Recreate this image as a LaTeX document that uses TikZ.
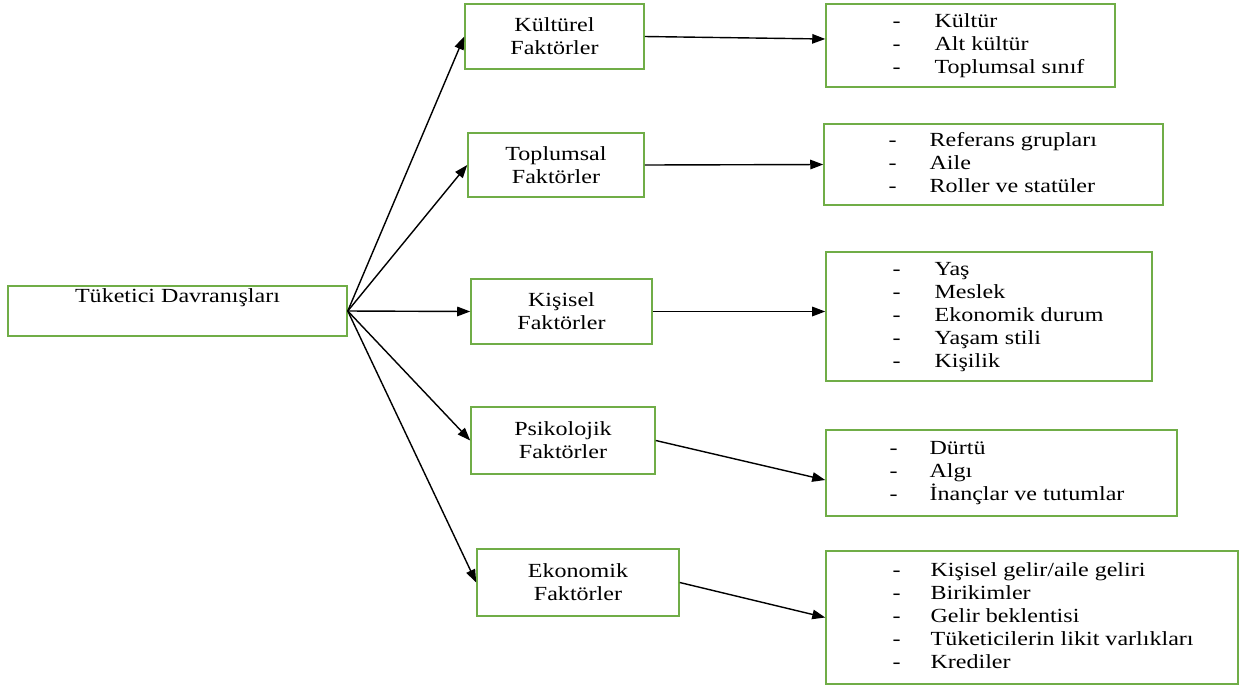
\documentclass[tikz,border=0pt]{standalone}
\usepackage{fontspec}
\setmainfont{Liberation Serif}[FakeStretch=1.2]
\usepackage{tikz}
\usetikzlibrary{arrows.meta,positioning}
\definecolor{boxgreen}{HTML}{70AD47}

\begin{document}
\begin{tikzpicture}[x=0.02cm,y=-0.02cm,font=\fontsize{11.4}{13.1}\selectfont,
  box/.style={draw=boxgreen,line width=0.9pt,align=center,inner sep=0pt},
  items/.style={align=left,inner sep=0pt},
  arr/.style={-{Triangle[length=2.6mm,width=1.9mm]},line width=0.8pt,color=black}]
  \useasboundingbox (0,0) rectangle (1242,691);
  % root and factor boxes
  \node[box,minimum width=6.78cm,minimum height=1cm] (root) at (177.5,311) {Tüketici Davranışları\\\strut};
  \node[box,minimum width=3.58cm,minimum height=1.3cm] (kul) at (554.5,36.5) {Kültürel\\Faktörler};
  \node[box,minimum width=3.52cm,minimum height=1.28cm] (top) at (556,165) {Toplumsal\\Faktörler};
  \node[box,minimum width=3.62cm,minimum height=1.3cm] (kis) at (561.5,311.5) {Kişisel\\Faktörler};
  \node[box,minimum width=3.68cm,minimum height=1.34cm] (psi) at (563,440.5) {Psikolojik\\Faktörler};
  \node[box,minimum width=4.04cm,minimum height=1.34cm] (eko) at (578,582.5) {Ekonomik\\Faktörler};
  % list boxes
  \node[box,minimum width=5.78cm,minimum height=1.66cm] (l1) at (970.5,45.5) {};
  \node[box,minimum width=6.78cm,minimum height=1.62cm] (l2) at (993.5,164.5) {};
  \node[box,minimum width=6.52cm,minimum height=2.58cm] (l3) at (989,316.5) {};
  \node[box,minimum width=7.02cm,minimum height=1.72cm] (l4) at (1001.5,473) {};
  \node[box,minimum width=8.24cm,minimum height=2.66cm] (l5) at (1032,617.5) {};
  \node[items,right=1.34cm of l1.west] (l1t) {\begin{tabular}{@{}p{0.84cm}@{}l@{}}
    - & Kültür\\ - & Alt kültür\\ - & Toplumsal sınıf\end{tabular}};
  \node[items,right=1.3cm of l2.west] (l2t) {\begin{tabular}{@{}p{0.82cm}@{}l@{}}
    - & Referans grupları\\ - & Aile\\ - & Roller ve statüler\end{tabular}};
  \node[items,right=1.34cm of l3.west] (l3t) {\begin{tabular}{@{}p{0.84cm}@{}l@{}}
    - & Yaş\\ - & Meslek\\ - & Ekonomik durum\\ - & Yaşam stili\\ - & Kişilik\end{tabular}};
  \node[items,right=1.28cm of l4.west] (l4t) {\begin{tabular}{@{}p{0.8cm}@{}l@{}}
    - & Dürtü\\ - & Algı\\ - & İnançlar ve tutumlar\end{tabular}};
  \node[items,right=1.34cm of l5.west] (l5t) {\begin{tabular}{@{}p{0.76cm}@{}l@{}}
    - & Kişisel gelir/aile geliri\\ - & Birikimler\\ - & Gelir beklentisi\\
    - & Tüketicilerin likit varlıkları\\ - & Krediler\end{tabular}};
  % connectors
  \draw[arr] (root.east) -- (kul.west);
  \draw[arr] (root.east) -- (top.west);
  \draw[arr] (root.east) -- (kis.west);
  \draw[arr] (root.east) -- (psi.west);
  \draw[arr] (root.east) -- (eko.west);
  \draw[arr] (kul.east) -- ([yshift=0.13cm]l1.west);
  \draw[arr] (top.east) -- (l2.west);
  \draw[arr] (kis.east) -- (kis.east -| l3.west);
  \draw[arr] (psi.east) -- ([yshift=-0.14cm]l4.west);
  \draw[arr] (eko.east) -- (l5.west);
\end{tikzpicture}
\end{document}
